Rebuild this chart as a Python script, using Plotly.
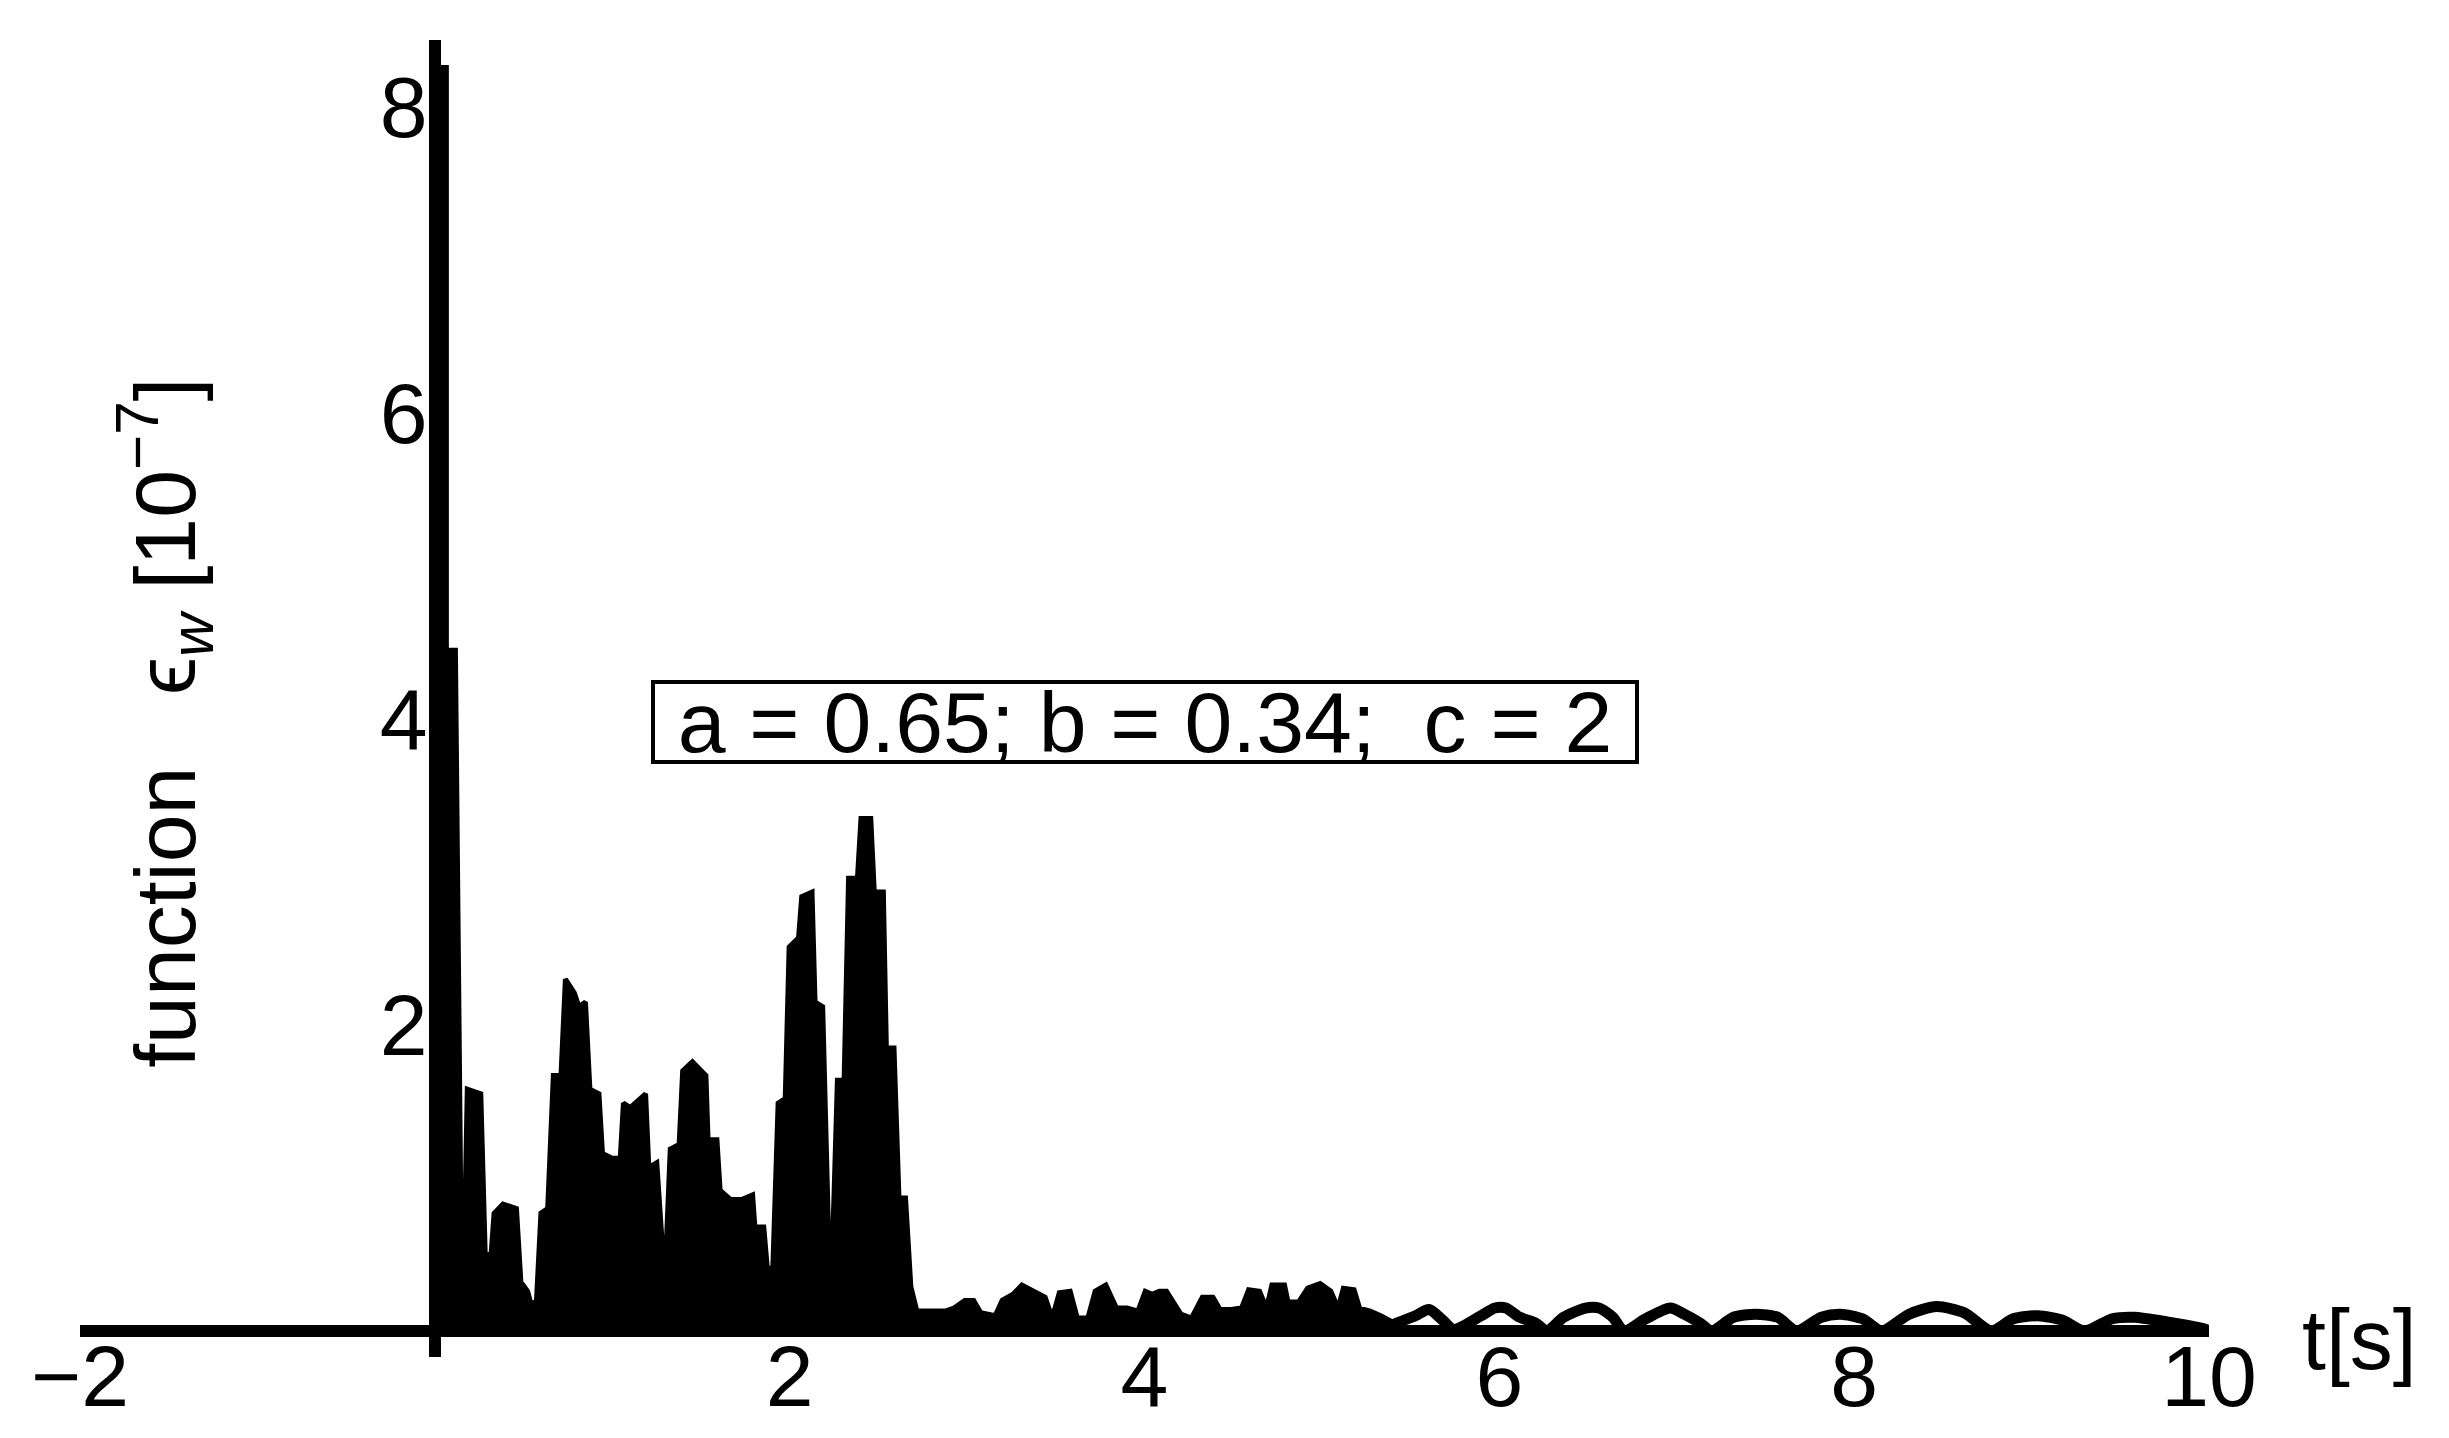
import plotly.graph_objects as go

# ---- data ----
# filled (densely oscillating) part of the curve: outer envelope
t_env = [0.000, 0.065, 0.065, 0.116, 0.146, 0.171, 0.183, 0.259, 0.284, 0.317,
         0.334, 0.384, 0.460, 0.485, 0.523, 0.543, 0.573, 0.598, 0.636, 0.668,
         0.711, 0.736, 0.786, 0.812, 0.849, 0.874, 0.925, 0.945, 1.000, 1.045,
         1.063, 1.101, 1.188, 1.206, 1.251, 1.296, 1.327, 1.377, 1.397, 1.452,
         1.528, 1.540, 1.590, 1.608, 1.666, 1.729, 1.791, 1.804, 1.854, 1.874,
         1.905, 1.935, 1.975, 1.997, 2.050, 2.068, 2.126, 2.143, 2.186, 2.219,
         2.244, 2.269, 2.307, 2.332, 2.382, 2.402, 2.457, 2.477, 2.528, 2.545,
         2.588, 2.616, 2.653, 2.683, 2.721, 2.735, 2.876, 2.926, 2.987, 3.037,
         3.077, 3.158, 3.198, 3.259, 3.309, 3.379, 3.440, 3.480, 3.520, 3.581,
         3.621, 3.681, 3.722, 3.782, 3.842, 3.903, 3.963, 4.004, 4.044, 4.084,
         4.124, 4.205, 4.265, 4.326, 4.386, 4.426, 4.487, 4.547, 4.587, 4.648,
         4.688, 4.718, 4.789, 4.809, 4.869, 4.920, 4.990, 5.050, 5.091, 5.121,
         5.181, 5.212, 5.272, 5.332, 5.413]
y_env = [8.26, 8.26, 4.45, 4.45, 0.86, 0.86, 1.58, 1.55, 0.50, 0.50,
         0.77, 0.83, 0.80, 0.32, 0.26, 0.17, 0.20, 0.77, 0.80, 1.67,
         1.67, 2.30, 2.21, 2.12, 2.15, 1.58, 1.55, 1.16, 1.13, 1.13,
         1.49, 1.46, 1.55, 1.07, 1.10, 0.32, 1.19, 1.22, 1.70, 1.76,
         1.67, 1.25, 1.25, 0.92, 0.86, 0.86, 0.89, 0.68, 0.68, 0.41,
         0.41, 1.49, 1.52, 2.51, 2.57, 2.84, 2.87, 2.15, 2.12, 0.65,
         0.65, 1.64, 1.64, 2.96, 2.96, 3.35, 3.35, 2.87, 2.87, 1.85,
         1.85, 0.87, 0.87, 0.29, 0.11, 0.13, 0.13, 0.15, 0.20, 0.20,
         0.12, 0.10, 0.20, 0.24, 0.30, 0.26, 0.22, 0.085, 0.25, 0.26,
         0.085, 0.085, 0.26, 0.30, 0.15, 0.15, 0.13, 0.26, 0.24, 0.26,
         0.26, 0.11, 0.085, 0.22, 0.22, 0.14, 0.14, 0.15, 0.27, 0.26,
         0.15, 0.30, 0.30, 0.19, 0.19, 0.28, 0.31, 0.26, 0.15, 0.28,
         0.27, 0.15, 0.13, 0.10, 0.05]

# later part of the curve: thick line with arches
t_arch = [5.372, 5.527, 5.604, 5.681, 5.743, 5.898, 5.975, 6.037, 6.114, 6.207,
          6.269, 6.362, 6.485, 6.562, 6.640, 6.702, 6.825, 6.964, 7.042, 7.134,
          7.196, 7.320, 7.444, 7.568, 7.676, 7.815, 7.923, 8.047, 8.155, 8.310,
          8.464, 8.619, 8.773, 8.897, 9.036, 9.175, 9.299, 9.454, 9.577, 9.763,
          9.949, 10.01]
y_arch = [0.03, 0.10, 0.14, 0.07, 0.01, 0.10, 0.15, 0.15, 0.09, 0.05,
          0.00, 0.09, 0.15, 0.15, 0.09, 0.00, 0.08, 0.15, 0.11, 0.05,
          0.00, 0.09, 0.11, 0.09, 0.00, 0.09, 0.11, 0.08, 0.00, 0.11,
          0.16, 0.12, 0.00, 0.08, 0.10, 0.07, 0.00, 0.08, 0.09, 0.06,
          0.02, 0.00]

x_ticks = [-2, 2, 4, 6, 8, 10]
y_ticks = [2, 4, 6, 8]
x_range = [-2, 10]
y_range = [-0.17, 8.44]

FONT = "Liberation Sans, Arial, Helvetica, sans-serif"
FS = 86

fig = go.Figure()
fig.add_trace(go.Scatter(x=t_env, y=y_env, mode="lines",
                         line=dict(color="black", width=5),
                         fill="tozeroy", fillcolor="black",
                         hoverinfo="skip"))
fig.add_trace(go.Scatter(x=t_arch, y=y_arch, mode="lines",
                         line=dict(color="black", width=11, shape="spline", smoothing=0.7),
                         hoverinfo="skip"))

xpos = (0 - y_range[0]) / (y_range[1] - y_range[0])
ypos = (0 - x_range[0]) / (x_range[1] - x_range[0])

fig.update_layout(
    width=2449, height=1438,
    margin=dict(l=72, r=248, t=32, b=89, autoexpand=False),
    plot_bgcolor="white", paper_bgcolor="white",
    showlegend=False,
    font=dict(family=FONT, size=FS, color="black"),
    xaxis=dict(range=x_range, anchor="free", position=xpos, automargin=False,
               showline=True, linewidth=12, linecolor="black",
               showgrid=False, zeroline=False, ticks="", ticklabelstandoff=-34,
               tickvals=x_ticks, tickfont=dict(family=FONT, size=FS, color="black")),
    yaxis=dict(range=y_range, anchor="free", position=ypos, automargin=False,
               showline=True, linewidth=12, linecolor="black",
               showgrid=False, zeroline=False, ticks="", ticklabelstandoff=-16,
               tickvals=y_ticks, tickfont=dict(family=FONT, size=FS, color="black")),
)

fig.add_annotation(x=4.0, y=3.98, xref="x", yref="y", showarrow=False,
                   xanchor="center", yanchor="middle",
                   text="a = 0.65; b = 0.34;  c = 2",
                   font=dict(family=FONT, size=FS, color="black"),
                   width=980, height=76, borderpad=0, borderwidth=4,
                   bordercolor="black", bgcolor="white", align="center", valign="middle")

fig.add_annotation(x=-1.52, y=3.977, xref="x", yref="y", showarrow=False,
                   xanchor="center", yanchor="middle", textangle=-90,
                   text="function\u00a0\u00a0\u00a0ϵ<sub><i>w</i></sub> [10<sup>−7</sup>]",
                   font=dict(family=FONT, size=FS, color="black"))

fig.add_annotation(x=1.0705, y=0.0137, xref="paper", yref="paper", showarrow=False,
                   xanchor="center", yanchor="middle",
                   text="t[s]", font=dict(family=FONT, size=FS, color="black"))

fig.write_html("out.html")
